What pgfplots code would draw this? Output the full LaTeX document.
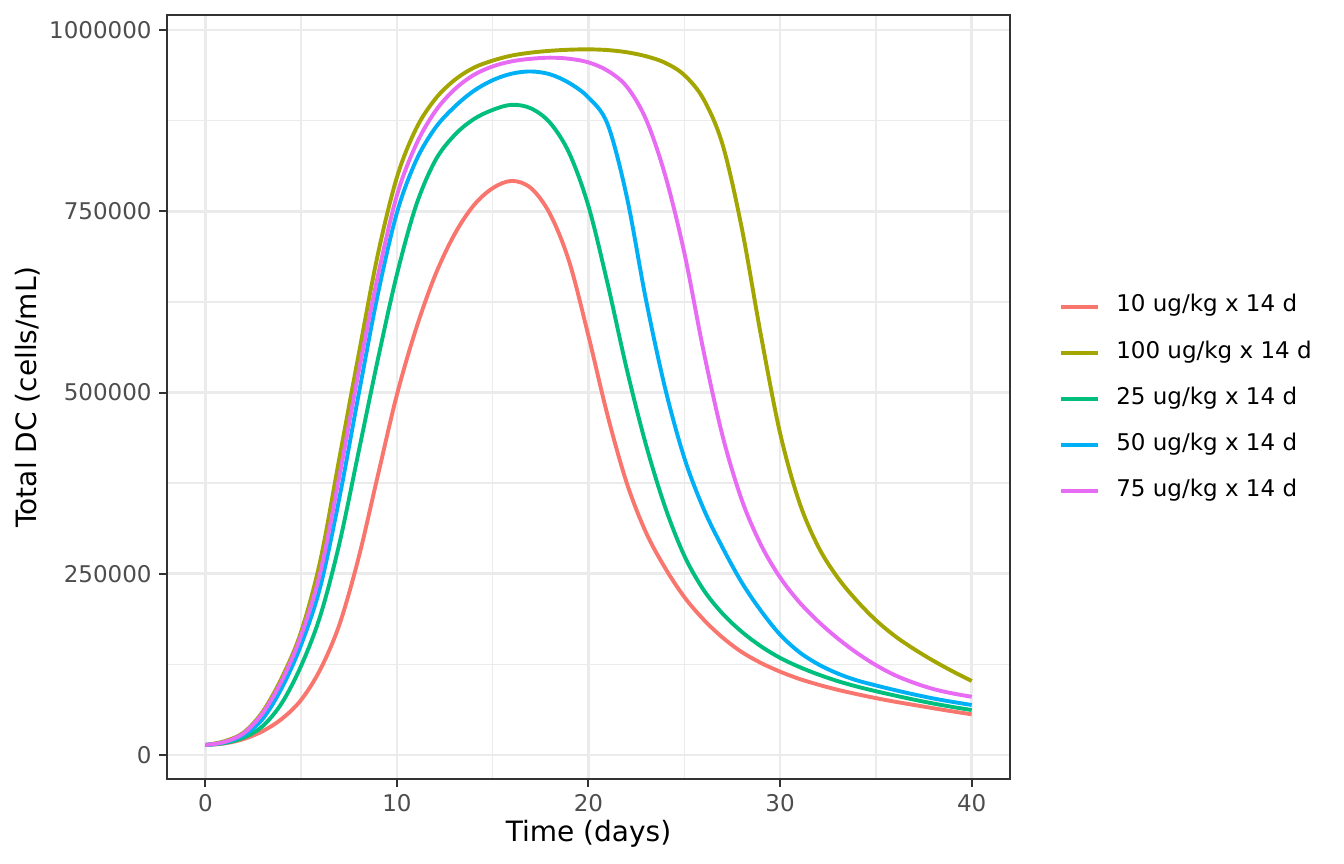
\documentclass[border=0pt]{standalone}
\usepackage{pgfplots}
\pgfplotsset{compat=1.18}
\usepackage{fontspec}
\setmainfont{DejaVu Sans}

\definecolor{c10}{HTML}{F8766D}
\definecolor{c100}{HTML}{A3A500}
\definecolor{c25}{HTML}{00BF7D}
\definecolor{c50}{HTML}{00B0F6}
\definecolor{c75}{HTML}{E76BF3}
\definecolor{gridc}{HTML}{EBEBEB}
\definecolor{framec}{HTML}{333333}
\definecolor{tickc}{HTML}{4D4D4D}

\pgfplotsset{dcline/.style={line width=1.95bp, smooth, tension=0.55, no markers}}

% Total DC per dose: columns t (days), then one column per dose (cells/mL)
\pgfplotstableread{
t d10 d100 d25 d50 d75
0 13800 13800 13800 13800 13800
1 16000 19000 16500 17500 18000
2 22000 31000 24000 27500 30000
3 33000 60000 40000 50000 58000
4 50000 107000 72000 93000 103000
5 76000 170000 123000 152000 165000
6 118000 268000 192000 232000 252000
7 180000 410000 292000 355000 385000
8 272000 552000 418000 497000 528000
9 385000 690000 545000 635000 660000
10 497000 797000 663000 748000 772000
11 588000 864000 758000 820000 842000
12 662000 905000 820000 865000 888000
13 718000 931000 855000 894000 918000
14 758000 948000 877000 916000 938000
15 782000 958000 890000 931000 950000
16 792000 965000 897000 940000 957000
17 782000 969000 892000 943000 960500
18 746000 971500 872000 939000 962000
19 680000 973000 830000 927000 960500
20 578000 973500 757000 907000 955500
21 468000 972500 650000 870000 944000
22 375000 969500 532000 770000 922000
23 307000 964000 428000 628000 877000
24 258000 955000 342000 506000 800000
25 218000 938000 275000 410000 693000
26 187000 905000 228000 340000 558000
27 162000 842000 195000 286000 440000
28 142000 727000 170000 238000 352000
29 127000 579000 150000 199000 290000
30 115000 444000 134000 166000 245000
31 105000 349000 121500 142000 211000
32 97000 287000 111000 125000 184000
33 90000 245000 102000 112500 161000
34 84000 213000 94500 103000 141000
35 78500 186000 88000 96000 124000
36 73500 164000 82000 89500 110000
37 69000 146000 76300 83500 99500
38 64500 130000 71000 78000 91000
39 60200 115500 66300 73300 85000
40 56100 102100 62000 69000 80400
}\dcdata

\begin{document}
\begin{tikzpicture}
\useasboundingbox (0,0) rectangle (672bp,432bp);
\begin{axis}[
  at={(83.5bp,42.5bp)}, anchor=south west,
  width=421.5bp, height=382bp, scale only axis,
  xmin=-2, xmax=42, ymin=-33100, ymax=1020900,
  xtick={0,10,20,30,40}, xticklabels={0,10,20,30,40},
  minor xtick={5,15,25,35},
  ytick={0,250000,500000,750000,1000000},
  yticklabels={0,250000,500000,750000,1000000},
  minor ytick={125000,375000,625000,875000},
  scaled y ticks=false,
  grid=both,
  major grid style={color=gridc, line width=1.3bp},
  minor grid style={color=gridc, line width=0.7bp},
  axis line style={color=framec, line width=0.9bp},
  tick align=outside, major tick length=4bp, minor tick length=0pt,
  tick style={color=framec, line width=1bp},
  xtick pos=bottom, ytick pos=left,
  ticklabel style={font=\fontsize{11.5bp}{13bp}\selectfont, color=tickc, inner sep=0pt},
  xticklabel style={anchor=north, yshift=-3.5bp},
  yticklabel style={anchor=east, xshift=-3.5bp},
  label style={font=\fontsize{14bp}{16bp}\selectfont, color=black},
  xlabel={Time (days)},
  ylabel={Total DC (cells/mL)},
  xlabel style={at={(axis description cs:0.5,-0.0821)}, anchor=base, inner sep=0pt},
  ylabel style={at={(axis description cs:-0.1554,0.5)}, anchor=base, inner sep=0pt},
  legend style={at={(axis description cs:1.0581,0.4974)}, anchor=west,
    draw=none, fill=none, inner sep=0pt, row sep=11.6bp, column sep=8bp,
    font=\fontsize{11.5bp}{13bp}\selectfont,
    nodes={inner sep=0pt, text height=8.4bp, text depth=3.1bp}},
  legend cell align=left,
  legend image code/.code={\draw[#1, sharp plot] (0bp,0bp) -- (18.5bp,0bp);},
]
\addplot[c10, dcline] table[x=t, y=d10] {\dcdata};
\addlegendentry{10 ug/kg x 14 d}
\addplot[c100, dcline] table[x=t, y=d100] {\dcdata};
\addlegendentry{100 ug/kg x 14 d}
\addplot[c25, dcline] table[x=t, y=d25] {\dcdata};
\addlegendentry{25 ug/kg x 14 d}
\addplot[c50, dcline] table[x=t, y=d50] {\dcdata};
\addlegendentry{50 ug/kg x 14 d}
\addplot[c75, dcline] table[x=t, y=d75] {\dcdata};
\addlegendentry{75 ug/kg x 14 d}
\end{axis}
\end{tikzpicture}
\end{document}
